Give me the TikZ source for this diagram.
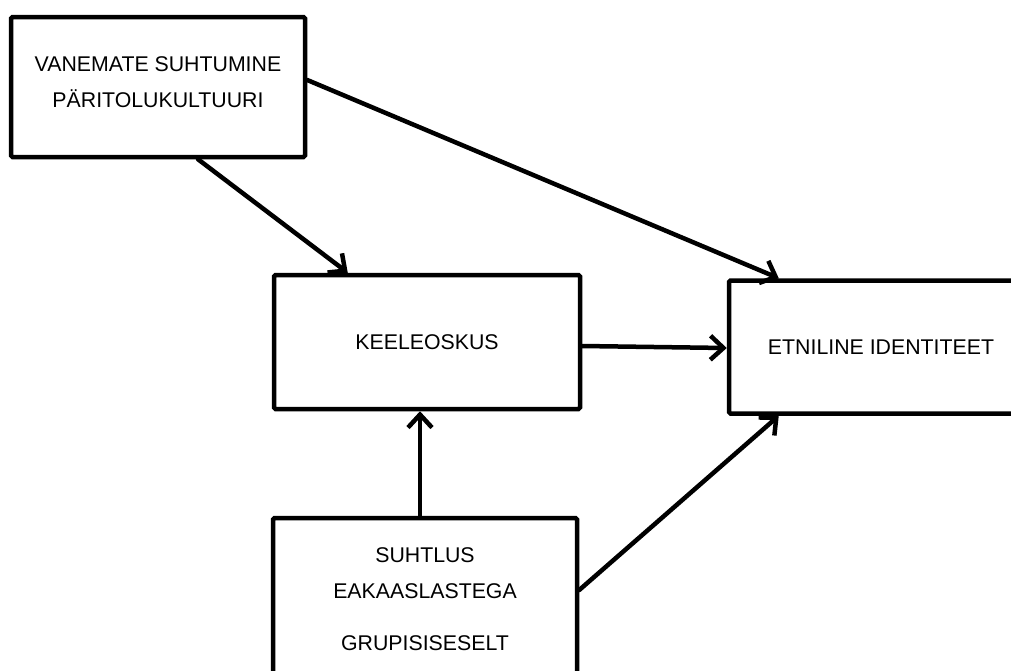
\documentclass[tikz,border=0pt]{standalone}
\usepackage{fontspec}
\setmainfont{Liberation Sans}
\usetikzlibrary{arrows.meta}
\tikzset{
  arr/.style={-{Straight Barb[length=13pt,width=24pt,line width=4.5pt]},line width=4.5pt,line cap=round},
  factorbox/.style={draw,line width=4.5pt,rounded corners=1.5pt,fill=white,align=center,inner sep=0pt,font=\fontsize{21.3pt}{36pt}\selectfont}
}
\begin{document}
\begin{tikzpicture}[x=1pt,y=-1pt]
  \clip (0,0) rectangle (1011,670);
  \fill[white] (0,0) rectangle (1011,670);
  % factors
  \node[factorbox,minimum width=294pt,minimum height=140pt,text depth=9pt] (parents) at (158,87) {VANEMATE SUHTUMINE\\PÄRITOLUKULTUURI};
  \node[factorbox,minimum width=306pt,minimum height=134pt] (skill) at (427,342) {KEELEOSKUS};
  \node[factorbox,minimum width=304pt,minimum height=133pt] (identity) at (881,347) {ETNILINE IDENTITEET};
  \node[factorbox,minimum width=304pt,minimum height=162pt] (peers) at (425,599) {SUHTLUS\\EAKAASLASTEGA\\[16pt]GRUPISISESELT};
  % effects
  \draw[arr] ([yshift=7pt]parents.east) -- ([xshift=52pt]identity.north west);
  \draw[arr] ([xshift=40pt]parents.south) -- ([xshift=76pt]skill.north west);
  \draw[arr] ([yshift=-4pt]skill.east) -- ([yshift=-1pt]identity.west);
  \draw[arr] ([xshift=-5pt]peers.north) -- ([xshift=-5pt]peers.north |- skill.south);
  \draw[arr] ([yshift=9pt]peers.east) -- ([xshift=52pt]identity.south west);
\end{tikzpicture}
\end{document}
